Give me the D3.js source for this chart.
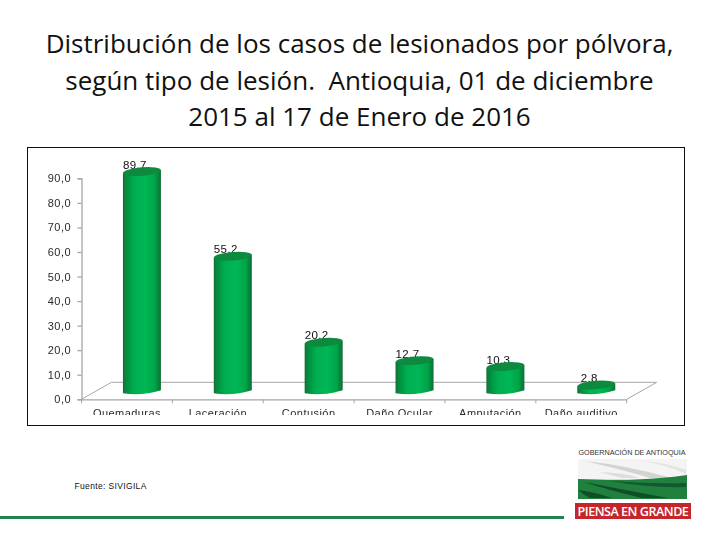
<!DOCTYPE html>
<html><head><meta charset="utf-8">
<script src="https://cdn.jsdelivr.net/npm/d3@7/dist/d3.min.js"></script>
<style>html,body{margin:0;padding:0;background:#fff}svg{display:block}</style>
</head><body><div id="c"></div>
<script>
const titleLines = ["Distribución de los casos de lesionados por pólvora,","según tipo de lesión.  Antioquia, 01 de diciembre","2015 al 17 de Enero de 2016"];
const categories = ["Quemaduras","Laceración","Contusión","Daño Ocular","Amputación","Daño auditivo"];
const values = [89.7,55.2,20.2,12.7,10.3,2.8];
const valueLabels = ["89,7","55,2","20,2","12,7","10,3","2,8"];
const yTicks = [0,10,20,30,40,50,60,70,80,90];
const source = "Fuente: SIVIGILA";
const logoTop = "GOBERNACIÓN DE ANTIOQUIA";
const logoBottom = "PIENSA EN GRANDE";

const svg = d3.select("#c").append("svg").attr("width",720).attr("height",540).attr("viewBox","0 0 720 540");
const defs = svg.append("defs");
const grad = defs.append("linearGradient").attr("id","cyl");
[[0,"#0a7034"],[.1,"#068f40"],[.3,"#00ae50"],[.6,"#00b654"],[.85,"#02a348"],[1,"#0a6c33"]].forEach(s=>grad.append("stop").attr("offset",s[0]).attr("stop-color",s[1]));
defs.append("clipPath").attr("id","frameClip").append("rect").attr("x",28).attr("y",148).attr("width",656).attr("height",267);
defs.append("filter").attr("id","soft").append("feGaussianBlur").attr("stdDeviation",0.3);

svg.append("g").selectAll("text").data(titleLines).join("text")
  .attr("x",359.5).attr("y",(d,i)=>53+i*36.5).attr("text-anchor","middle").style("white-space","pre")
  .attr("font-family","'Open Sans',sans-serif").attr("font-size",26).attr("fill","#111").text(d=>d);

svg.append("rect").attr("x",27.5).attr("y",147.5).attr("width",657).attr("height",278).attr("fill","#fff").attr("stroke","#111").attr("stroke-width",1);

const y = d3.scaleLinear().domain([0,90]).range([399.3,178.3]);
const x = d3.scaleBand().domain(categories).range([81.5,626.7]);
const dx = 30, dy = 17, bw = 38, ry = 4.2, lift = 7.5, shift = 15, tilt = 1.5, labelShift = -7;
const plot = svg.append("g").attr("clip-path","url(#frameClip)").attr("filter","url(#soft)");
const gray = "#a6a6a6";
const [x0,x1] = x.range();

plot.append("path").attr("fill","none").attr("stroke",gray)
  .attr("d",d3.line()([[x0,y(0)],[x0+dx,y(0)-dy],[x1+dx,y(0)-dy],[x1,y(0)]]));

const yAxis = d3.axisLeft(y).tickValues(yTicks).tickFormat(d=>d3.format(".1f")(d).replace(".",",")).tickSize(4).tickPadding(6.5);
const yg = plot.append("g").attr("transform",`translate(${x0},0)`).call(yAxis);
const xAxis = d3.axisBottom(x).tickSize(0).tickPadding(4);
const xg = plot.append("g").attr("transform",`translate(0,${y(0)})`).call(xAxis);
plot.append("g").selectAll("line").data(d3.range(7)).join("line")
  .attr("x1",i=>x0+i*x.step()).attr("x2",i=>x0+i*x.step())
  .attr("y1",y(0)).attr("y2",y(0)+4).attr("stroke",gray);
[yg,xg].forEach(g=>{g.selectAll(".domain,.tick line").attr("stroke",gray).attr("stroke-width",1.3);
  g.selectAll("text").attr("font-family","'Liberation Sans',sans-serif").attr("font-size",11).attr("fill","#2a2a2a").attr("letter-spacing",.45);});
xg.selectAll("text").attr("y",10).attr("dy","0.71em");

const cx = d => x(d)+x.bandwidth()/2+shift;
const cyl = plot.append("g");
// data labels sit behind the cylinders, which hide their lower edge
cyl.selectAll("text").data(categories).join("text")
  .attr("x",d=>cx(d)+labelShift).attr("y",(d,i)=>y(values[i])-lift-3)
  .attr("text-anchor","middle").attr("font-family","'Liberation Sans',sans-serif").attr("font-size",11.5).attr("letter-spacing",.4).attr("fill","#111")
  .text((d,i)=>valueLabels[i]);
const bars = cyl.selectAll("g.b").data(categories).join("g").attr("class","b");
bars.append("path").attr("fill","url(#cyl)").attr("d",(d,i)=>{
  const l=cx(d)-bw/2, r=cx(d)+bw/2, t=y(values[i])-lift, b=y(0)-lift;
  return `M${l},${t+tilt}L${l},${b+tilt}Q${cx(d)},${b+4.5} ${r},${b-tilt}L${r},${t-tilt}Z`;
});
bars.append("ellipse").attr("cx",d=>cx(d)).attr("cy",(d,i)=>y(values[i])-lift)
  .attr("rx",bw/2).attr("ry",ry).attr("fill","#0a8a3e")
  .attr("transform",(d,i)=>`rotate(-4.5 ${cx(d)} ${y(values[i])-lift})`);

svg.append("text").attr("x",74.5).attr("y",489).attr("font-family","'Liberation Sans',sans-serif").attr("font-size",8.5).attr("letter-spacing",.35).attr("fill","#111").text(source);
svg.append("rect").attr("x",0).attr("y",516).attr("width",564).attr("height",3).attr("fill","#23824f");

// logo
const logo = svg.append("g");
logo.append("text").attr("x",632).attr("y",454.5).attr("text-anchor","middle").attr("font-family","'Liberation Sans',sans-serif").attr("font-size",7.2).attr("fill","#333").text(logoTop);
logo.append("rect").attr("x",578).attr("y",459).attr("width",109).attr("height",20).attr("fill","#f4f4f4");
logo.append("path").attr("fill","#d2d4d2").attr("d","M584,461Q625,465 672,478L650,478Q620,469 584,461Z");
logo.append("path").attr("fill","#dcdedc").attr("d","M600,472Q625,473 640,478L622,478Q610,475 600,472Z");
logo.append("path").attr("fill","#e2e4e2").attr("d","M640,461Q665,464 686,474L686,470Q665,462 640,461Z");
logo.append("path").attr("fill","#22803f").attr("d","M578,479Q630,481 660,478Q675,477 687,475V499H578Z");
logo.append("path").attr("fill","#0f4f28").attr("d","M584,482Q625,490 668,498L642,498Q608,490 584,482Z");
logo.append("path").attr("fill","#125a2d").attr("d","M610,481Q650,484 686,483L686,487Q648,488 610,481Z");
logo.append("path").attr("fill","#0f4f28").attr("d","M578,490Q595,492 612,498L590,498Q584,495 578,490Z");
logo.append("rect").attr("x",575).attr("y",503).attr("width",116).attr("height",16).attr("fill","#c5262c");
logo.append("text").attr("x",633).attr("y",515.5).attr("text-anchor","middle").attr("font-family","'Open Sans',sans-serif").attr("font-weight",600).attr("font-size",12.6).attr("letter-spacing",-.5).attr("fill","#fff").text(logoBottom);
</script></body></html>
